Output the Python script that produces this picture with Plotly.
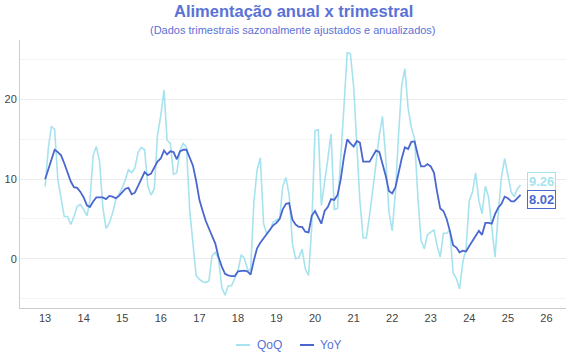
import pandas as pd
import plotly.graph_objects as go

dates = pd.date_range("2013-01-01", periods=149, freq="MS")

qoq = [9.1, 14.0, 16.6, 16.3, 10.0, 7.8, 5.3, 5.3, 4.3, 5.3, 6.6, 6.8,
       6.2, 5.4, 7.3, 13.0, 14.1, 12.2, 6.5, 3.8, 4.5, 5.7, 7.4, 8.1,
       8.9, 10.0, 11.2, 10.8, 11.4, 13.4, 14.0, 13.7, 9.1, 8.0, 8.8, 15.5,
       18.0, 21.2, 14.9, 14.5, 10.6, 10.8, 13.6, 14.5, 14.0, 6.1, 1.5, -2.1,
       -2.6, -2.9, -3.0, -2.8, 0.4, 0.8, 0.0, -3.6, -4.6, -3.4, -3.4, -2.6,
       -1.6, 0.5, 0.1, -1.3, -1.5, 7.1, 11.1, 12.7, 4.4, 3.1, 3.6, 4.6,
       4.9, 5.1, 9.1, 10.2, 8.0, 1.9, 0.0, 0.1, 1.2, -1.3, -2.1, 4.0,
       16.1, 16.2, 6.7, 9.5, 12.5, 15.7, 6.2, 6.3, 12.4, 19.1, 25.9, 25.8,
       21.6, 13.2, 7.3, 2.6, 2.6, 5.5, 8.5, 12.0, 15.5, 17.9, 12.6, 5.9,
       3.5, 8.4, 15.3, 21.8, 23.9, 18.9, 16.5, 15.1, 7.75, 2.3, 1.25, 3.0,
       3.35, 3.6, 1.7, 0.2, 3.2, 3.2, 3.6, -1.8, -2.5, -3.8, -0.4, 1.25,
       7.3, 8.4, 10.8, 7.3, 5.65, 9.1, 7.8, 3.8, 0.2, 5.65, 10.3, 12.6,
       10.7, 8.4, 7.8, 8.8, 9.26]

yoy = [10.0, 11.3, 12.6, 13.7, 13.4, 13.0, 12.0, 10.9, 9.7, 9.0, 8.9, 8.4,
       7.7, 6.7, 6.5, 7.2, 7.7, 7.7, 7.7, 7.5, 7.9, 7.8, 7.6, 7.9,
       8.4, 8.8, 8.9, 8.1, 8.3, 9.1, 10.0, 10.9, 10.5, 10.7, 11.4, 12.2,
       12.6, 13.6, 13.1, 13.5, 13.4, 12.5, 13.5, 13.7, 13.7, 12.8, 11.7, 9.8,
       7.4, 6.0, 4.8, 3.8, 2.9, 1.9, 0.2, -1.0, -1.9, -2.1, -2.2, -2.2,
       -1.6, -1.5, -1.5, -1.6, -2.0, -0.2, 1.3, 2.0, 2.6, 3.1, 3.7, 4.2,
       4.5, 5.0, 6.2, 6.9, 7.0, 4.9, 4.3, 4.0, 4.0, 3.4, 3.3, 5.4,
       6.0, 5.1, 4.4, 6.0, 6.5, 7.5, 7.4, 8.0, 10.0, 12.8, 15.0, 14.5,
       14.1, 14.8, 14.6, 12.2, 12.2, 12.2, 12.9, 13.6, 13.4, 12.0, 10.4, 8.5,
       8.2, 9.0, 10.9, 12.6, 14.0, 13.8, 14.7, 14.75, 13.0, 11.6, 11.6, 11.9,
       11.6, 10.8, 8.5, 6.3, 6.0, 5.0, 3.5, 1.7, 1.4, 0.8, 1.0, 0.9,
       1.6, 2.2, 2.8, 3.5, 3.0, 4.5, 4.5, 4.4, 5.6, 6.4, 6.9, 7.8,
       7.6, 7.2, 7.2, 7.6, 8.02]

series_names = ["QoQ", "YoY"]
title_text = "Alimentação anual x trimestral"
subtitle_text = "(Dados trimestrais sazonalmente ajustados e anualizados)"

c_qoq = "#a6e3ee"
c_yoy = "#4a67cf"
c_title = "#5a72d6"

fig = go.Figure()
fig.add_trace(go.Scatter(x=dates, y=qoq, name=series_names[0], mode="lines",
                         line=dict(color=c_qoq, width=1.6), showlegend=False))
fig.add_trace(go.Scatter(x=dates, y=yoy, name=series_names[1], mode="lines",
                         line=dict(color=c_yoy, width=1.8), showlegend=False))

fig.add_annotation(x=dates[-1], y=qoq[-1], text="<b>%.2f</b>" % qoq[-1],
                   xanchor="left", yanchor="middle", xshift=6, yshift=4,
                   showarrow=False, font=dict(color=c_qoq, size=13),
                   bordercolor=c_qoq, borderwidth=1, borderpad=1, bgcolor="white")
fig.add_annotation(x=dates[-1], y=yoy[-1], text="<b>%.2f</b>" % yoy[-1],
                   xanchor="left", yanchor="middle", xshift=6, yshift=-4.5,
                   showarrow=False, font=dict(color=c_yoy, size=13),
                   bordercolor=c_yoy, borderwidth=1, borderpad=1, bgcolor="white")

fig.add_annotation(x=0.5, y=1, xref="paper", yref="paper", yshift=29,
                   text="<b>" + title_text + "</b>", showarrow=False,
                   font=dict(size=16.5, color=c_title), yanchor="middle")
fig.add_annotation(x=0.5, y=1, xref="paper", yref="paper", yshift=10,
                   text=subtitle_text, showarrow=False,
                   font=dict(size=11, color=c_title), yanchor="middle")

# custom compact legend
leg_y = -0.138
leg_items = [(series_names[0], c_qoq, 236, 255), (series_names[1], c_yoy, 300, 318)]
for name, col, lx, tx in leg_items:
    x0 = (lx - 20) / 546.0
    x1 = (lx + 14 - 20) / 546.0
    fig.add_shape(type="line", xref="paper", yref="paper", x0=x0, x1=x1,
                  y0=leg_y, y1=leg_y, line=dict(color=col, width=2))
    fig.add_annotation(x=(tx - 20) / 546.0, y=leg_y, xref="paper", yref="paper",
                       text=name, showarrow=False, xanchor="left", yanchor="middle",
                       font=dict(size=12, color=c_title))

fig.update_layout(
    width=570, height=360,
    margin=dict(l=20, r=4, t=40, b=52, autoexpand=False),
    paper_bgcolor="white", plot_bgcolor="white",
    font=dict(family="Liberation Sans, Arial, sans-serif", size=11, color="#444444"),
    showlegend=False,
    hovermode=False,
)
fig.update_xaxes(range=["2012-05-08", "2026-07-05"], dtick="M12", tick0="2013-01-01",
                 tickformat="%y", showgrid=False, showline=True, linecolor="#cccccc",
                 linewidth=1, ticks="", zeroline=False, automargin=False,
                 tickfont=dict(size=11, color="#444"))
fig.update_yaxes(range=[-6.2, 27.5], dtick=10, tick0=0, showgrid=True, gridcolor="#ebebeb",
                 gridwidth=1, minor=dict(dtick=5, showgrid=True, gridcolor="#f3f3f3"),
                 showline=True, linecolor="#cccccc", linewidth=1, zeroline=False,
                 ticks="", automargin=False, tickfont=dict(size=11, color="#444"))

fig.write_html("out.html", config={"displayModeBar": False, "staticPlot": True},
               post_script="document.body.style.margin='0';document.body.style.overflow='hidden';")
